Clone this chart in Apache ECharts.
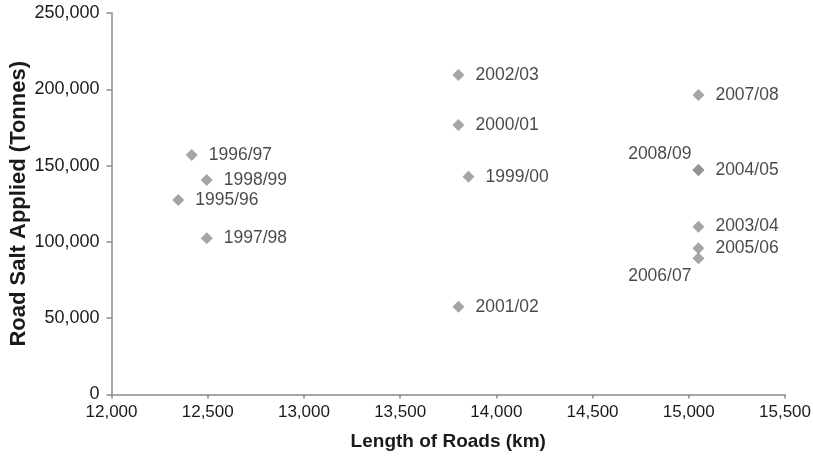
<!DOCTYPE html>
<html>
<head>
<meta charset="utf-8">
<script src="https://cdn.jsdelivr.net/npm/echarts@6/dist/echarts.min.js"></script>
<style>
  html, body { margin: 0; padding: 0; background: #fff; }
  #chart { width: 813px; height: 458px; }
</style>
</head>
<body>
<div id="chart"></div>
<script>
// Winter seasons, road network length (km) and road salt applied (tonnes)
const seasons = ['1995/96', '1996/97', '1997/98', '1998/99', '1999/00', '2000/01', '2001/02',
                 '2002/03', '2003/04', '2004/05', '2005/06', '2006/07', '2007/08', '2008/09'];
const roadLength = [12347, 12417, 12495, 12495, 13855, 13803, 13803,
                    13803, 15050, 15050, 15050, 15050, 15050, 15050];
const saltApplied = [127500, 157000, 102400, 140600, 142700, 176600, 57500,
                     209400, 110000, 147100, 95800, 89300, 196300, 147100];
const xTicks = [12000, 12500, 13000, 13500, 14000, 14500, 15000, 15500];
const yTicks = [0, 50000, 100000, 150000, 200000, 250000];

// A few labels sit to the left of their marker to avoid overlapping neighbours
const labelOverrides = {
  '2008/09': { position: 'left', distance: 1, offset: [0, -16] },
  '2006/07': { position: 'left', distance: 1, offset: [0, 18] }
};

const fmt = v => v.toLocaleString('en-US');
const font = 'Liberation Sans, Arial, sans-serif';

const data = seasons.map((s, i) => {
  const item = { name: s, value: [roadLength[i], saltApplied[i]] };
  if (labelOverrides[s]) item.label = labelOverrides[s];
  return item;
});

const chart = echarts.init(document.getElementById('chart'), null, { renderer: 'canvas' });
chart.setOption({
  animation: false,
  backgroundColor: '#fff',
  textStyle: { fontFamily: font },
  grid: { left: 111.5, right: 28, top: 13, bottom: 63.5, containLabel: false, outerBoundsMode: 'none' },
  xAxis: {
    type: 'value',
    min: xTicks[0], max: xTicks[xTicks.length - 1], interval: 500,
    name: 'Length of Roads (km)',
    nameLocation: 'middle', nameGap: 38, nameMoveOverlap: false,
    nameTextStyle: { fontFamily: font, fontSize: 19, fontWeight: 'bold', color: '#1a1a1a' },
    axisLine: { show: true, lineStyle: { color: '#8a8a8a', width: 1.5 } },
    axisTick: { show: true, length: 4, lineStyle: { color: '#8a8a8a', width: 1.5 } },
    axisLabel: { fontFamily: font, fontSize: 17, color: '#1a1a1a', margin: 9, formatter: fmt },
    splitLine: { show: false }
  },
  yAxis: {
    type: 'value',
    min: yTicks[0], max: yTicks[yTicks.length - 1], interval: 50000,
    name: 'Road Salt Applied (Tonnes)',
    nameLocation: 'middle', nameGap: 82, nameRotate: 90, nameMoveOverlap: false,
    nameTextStyle: { fontFamily: font, fontSize: 22, fontWeight: 'bold', color: '#1a1a1a' },
    axisLine: { show: true, lineStyle: { color: '#8a8a8a', width: 1.5 } },
    axisTick: { show: true, length: 5, lineStyle: { color: '#8a8a8a', width: 1.5 } },
    axisLabel: { fontFamily: font, fontSize: 18, color: '#1a1a1a', margin: 12, formatter: fmt },
    splitLine: { show: false }
  },
  series: [{
    type: 'scatter',
    symbol: 'diamond',
    symbolSize: 12,
    itemStyle: { color: '#8e8e8e' },
    label: {
      show: true,
      position: 'right',
      distance: 11,
      formatter: p => p.name,
      fontFamily: font,
      fontSize: 17.5,
      color: '#1a1a1a'
    },
    data: data
  }]
});
</script>
</body>
</html>
